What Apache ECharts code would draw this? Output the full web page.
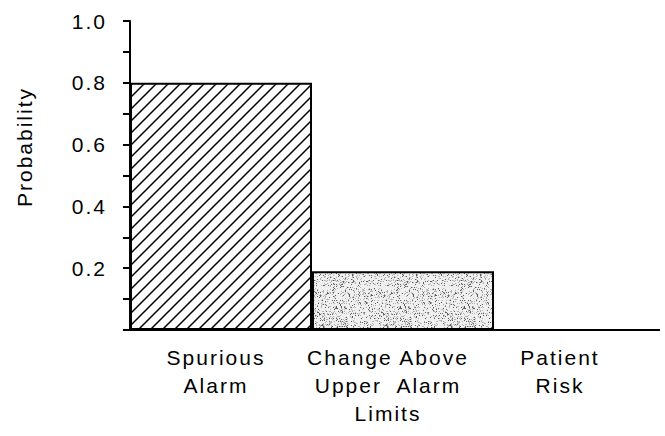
<!DOCTYPE html>
<html>
<head>
<meta charset="utf-8">
<script src="https://cdn.jsdelivr.net/npm/echarts@6/dist/echarts.min.js"></script>
<style>
  html, body { margin: 0; padding: 0; background: #fff; }
  #chart { width: 660px; height: 436px; overflow: hidden; }
  #chart text { letter-spacing: 2px; }
</style>
</head>
<body>
<div id="chart"></div>
<script>
// ---- data ----
const categories = ['Spurious\nAlarm', 'Change Above\nUpper  Alarm\nLimits', 'Patient\nRisk'];
const probabilities = [0.80, 0.19, 0.0];
const yTickLabels = ['0.2', '0.4', '0.6', '0.8', '1.0'];
const yAxisTitle = 'Probability';

// ---- fill textures ----
function hatchTile() {
  const p = 12;
  const c = document.createElement('canvas');
  c.width = p; c.height = p;
  const g = c.getContext('2d');
  g.fillStyle = '#fff'; g.fillRect(0, 0, p, p);
  g.strokeStyle = '#000'; g.lineWidth = 1.5;
  g.beginPath();
  g.moveTo(-1, p + 1); g.lineTo(p + 1, -1);
  g.moveTo(-2, 2); g.lineTo(2, -2);
  g.moveTo(p - 2, p + 2); g.lineTo(p + 2, p - 2);
  g.stroke();
  return c;
}
function stippleTile() {
  const n = 64;
  const c = document.createElement('canvas');
  c.width = n; c.height = n;
  const g = c.getContext('2d');
  const img = g.createImageData(n, n);
  for (let y = 0; y < n; y++) {
    for (let x = 0; x < n; x++) {
      let h = (x * 374761393 + y * 668265263) | 0;
      h = Math.imul(h ^ (h >>> 13), 1274126177);
      h = (h ^ (h >>> 16)) >>> 0;
      const v = h / 4294967296;
      let shade = 240;
      if (v < 0.08) shade = 90;
      else if (v < 0.22) shade = 175;
      const i = (y * n + x) * 4;
      img.data[i] = img.data[i + 1] = img.data[i + 2] = shade;
      img.data[i + 3] = 255;
    }
  }
  g.putImageData(img, 0, 0);
  return c;
}
const fills = [
  { image: hatchTile(), repeat: 'repeat' },
  { image: stippleTile(), repeat: 'repeat' },
  '#ffffff'
];

const FONT = "'Liberation Sans', Arial, Helvetica, sans-serif";

const chart = echarts.init(document.getElementById('chart'), null, { renderer: 'svg' });
chart.setOption({
  animation: false,
  backgroundColor: '#fff',
  grid: [
    { left: 130, top: 21, height: 309, width: 546, outerBoundsMode: 'none' },
    { left: 130, top: 21, height: 309, width: 516, outerBoundsMode: 'none' }
  ],
  xAxis: [
    {
      type: 'category', gridIndex: 0, data: categories,
      axisLine: { show: true, lineStyle: { color: '#000', width: 2 } },
      axisTick: { show: false },
      axisLabel: { show: false }
    },
    {
      type: 'category', gridIndex: 1, data: categories,
      axisLine: { show: false },
      axisTick: { show: false },
      axisLabel: {
        interval: 0, margin: 13, color: '#000', fontSize: 21,
        fontFamily: FONT, lineHeight: 28, align: 'center'
      }
    }
  ],
  yAxis: [
    {
      type: 'value', gridIndex: 0, min: 0, max: 1, interval: 0.1,
      axisLine: { show: true, lineStyle: { color: '#000', width: 2 } },
      axisTick: { show: true, inside: false, length: 7, lineStyle: { color: '#000', width: 2 } },
      splitLine: { show: false },
      axisLabel: {
        margin: 23, color: '#000', fontSize: 21, fontFamily: FONT,
        formatter: function (v) {
          const s = v.toFixed(1);
          return yTickLabels.indexOf(s) >= 0 ? s : '';
        }
      }
    },
    { type: 'value', gridIndex: 1, show: false, min: 0, max: 1 }
  ],
  graphic: [
    {
      type: 'text', x: 24, y: 147, rotation: Math.PI / 2,
      style: {
        text: yAxisTitle, fill: '#000', fontSize: 21, fontFamily: FONT,
        align: 'center', verticalAlign: 'middle'
      }
    }
  ],
  series: [
    {
      type: 'bar', xAxisIndex: 0, yAxisIndex: 0,
      barWidth: '100%',
      data: probabilities.map(function (v, i) {
        return { value: v, itemStyle: { color: fills[i] } };
      }),
      itemStyle: { borderColor: '#000', borderWidth: 2 }
    }
  ]
});
</script>
</body>
</html>
